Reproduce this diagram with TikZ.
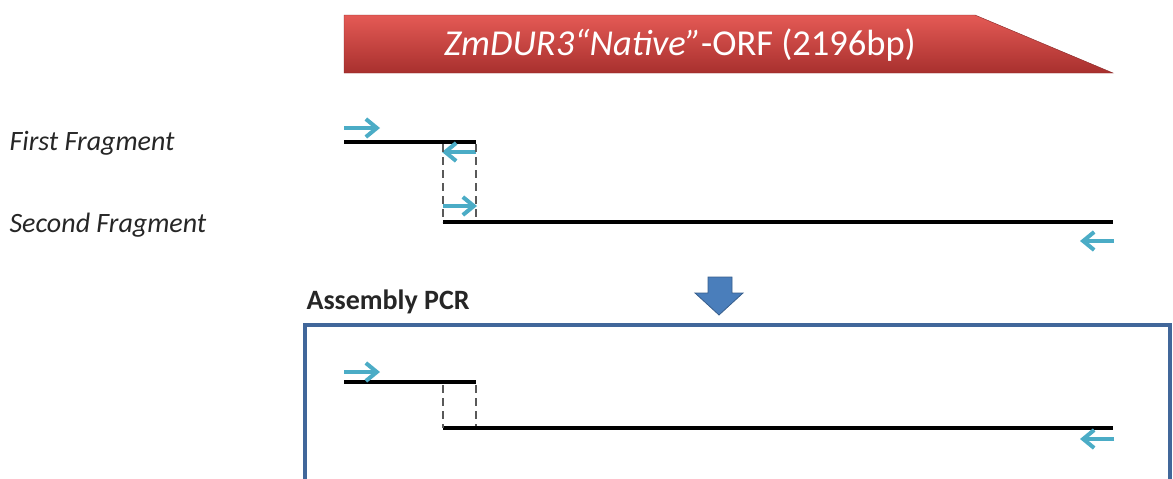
\documentclass[tikz,border=0pt]{standalone}
\usepackage{fontspec}
\setmainfont{Carlito}
\usetikzlibrary{arrows.meta}
\definecolor{primer}{HTML}{4BACC6}
\definecolor{boxblue}{HTML}{41679A}
\definecolor{arrowblue}{HTML}{4A7EBB}
\definecolor{redtop}{HTML}{E45A55}
\definecolor{redbot}{HTML}{A8302E}
\definecolor{labelgray}{HTML}{262626}
\tikzset{
  strand/.style={line width=4pt, black},
  primerarrow/.style={line width=4pt, primer, -{Straight Barb[length=11pt,width=18pt,line width=4pt]}},
  overlap/.style={line width=1.3pt, gray!70!black, dash pattern=on 8pt off 5pt},
  rowlabel/.style={anchor=west, text=labelgray, font=\fontsize{28}{32}\selectfont\itshape},
}
\begin{document}
\begin{tikzpicture}[x=1pt,y=-1pt]
\useasboundingbox (0,0) rectangle (1173,479);

% ORF banner
\shade[top color=redtop, bottom color=redbot, draw=redbot!80!black, line width=0.4pt]
  (344,15) -- (975,15) -- (1113,73) -- (344,73) -- cycle;
\node[text=white, font=\fontsize{36.5}{40}\selectfont] (orf) at (680,45)
  {\textit{ZmDUR3“Native”}-ORF (2196bp)};

% fragment labels
\node[rowlabel] (l1) at (6,143) {First Fragment};
\node[rowlabel] (l2) at (6,225) {Second Fragment};

% first fragment
\coordinate (f1a) at (344,142);
\coordinate (f1b) at (476,142);
\draw[strand] (f1a) -- (f1b);
\coordinate (p1s) at (344,128); \coordinate (p1e) at (380,128);
\draw[primerarrow] (p1s) -- (p1e);
\coordinate (p2s) at (476,152); \coordinate (p2e) at (442,152);
\draw[primerarrow] (p2s) -- (p2e);

% second fragment
\coordinate (f2a) at (443,222);
\coordinate (f2b) at (1113,222);
\draw[strand] (f2a) -- (f2b);
\coordinate (p3s) at (443,206); \coordinate (p3e) at (477,206);
\draw[primerarrow] (p3s) -- (p3e);
\coordinate (p4s) at (1114,241); \coordinate (p4e) at (1080,241);
\draw[primerarrow] (p4s) -- (p4e);

% overlap region
\coordinate (o1t) at (443,144); \coordinate (o2t) at (476,144);
\draw[overlap] (o1t) -- (f2a);
\draw[overlap] (o2t) -- (476,220);

% down arrow
\fill[arrowblue, draw=arrowblue!75!black, line width=0.8pt]
  (708,277) -- (732,277) -- (732,293) -- (743,293) -- (719,315) -- (695,293) -- (708,293) -- cycle;

% assembly box
\node[anchor=west, text=labelgray, font=\fontsize{28}{32}\selectfont\bfseries] (asm) at (303,302) {Assembly PCR};
\draw[boxblue, line width=3.5pt] (305,482) -- (305,325) -- (1170,325) -- (1170,482);

% assembled product
\coordinate (a1a) at (344,382);
\coordinate (a1b) at (476,382);
\draw[strand] (a1a) -- (a1b);
\coordinate (q1s) at (344,372); \coordinate (q1e) at (380,372);
\draw[primerarrow] (q1s) -- (q1e);
\coordinate (a2a) at (443,428);
\coordinate (a2b) at (1113,428);
\draw[strand] (a2a) -- (a2b);
\coordinate (q2s) at (1114,439); \coordinate (q2e) at (1080,439);
\draw[primerarrow] (q2s) -- (q2e);
\draw[overlap] (443,385) -- (a2a);
\draw[overlap] (476,385) -- (476,426);
\end{tikzpicture}
\end{document}
